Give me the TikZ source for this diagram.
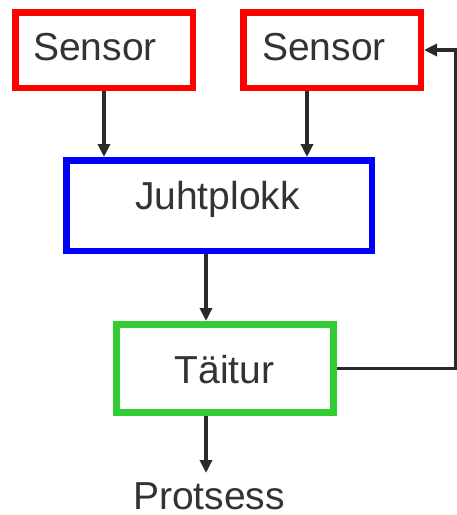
\documentclass[tikz,border=0pt]{standalone}
\usepackage{fontspec}
\setmainfont{Liberation Sans}
\usetikzlibrary{arrows.meta,calc}
\definecolor{txtgray}{HTML}{333333}
\definecolor{lingray}{HTML}{2A2A2A}
\definecolor{boxred}{HTML}{FF0000}
\definecolor{boxblue}{HTML}{0000FF}
\definecolor{boxgreen}{HTML}{33CC33}
\tikzset{
  blockbox/.style={draw, rectangle, inner sep=0pt, fill=white},
  lbl/.style={inner sep=0pt, anchor=base, text=txtgray, font=\fontsize{39}{47}\selectfont},
  arr/.style={draw=lingray, line width=3.3pt, -{Triangle[length=13pt,width=12pt]}},
}
\begin{document}
\begin{tikzpicture}[x=1pt,y=-1pt]
\useasboundingbox (0,0) rectangle (456,515);
\fill[white] (0,0) rectangle (456,515);
% boxes
\node[blockbox, draw=boxred, line width=6.5pt, minimum width=177.5pt, minimum height=75.5pt] (s1) at (104,50) {};
\node[blockbox, draw=boxred, line width=6.5pt, minimum width=177.5pt, minimum height=75.5pt] (s2) at (332,50) {};
\node[blockbox, draw=boxblue, line width=6.5pt, minimum width=305.5pt, minimum height=90.5pt] (jp) at (219,205.5) {};
\node[blockbox, draw=boxgreen, line width=7pt, minimum width=217pt, minimum height=88pt] (ta) at (225,368.5) {};
% texts
\node[lbl] (t1) at (95,60) {Sensor};
\node[lbl] (t2) at (324,60) {Sensor};
\node[lbl] (t3) at (217.5,209) {Juhtplokk};
\node[lbl] (t4) at (224.5,383) {Täitur};
\node[lbl] (pr) at (209,509) {Protsess};
% connectors
\coordinate (fb) at (455.5,0);
\coordinate (pin) at (206,473);
\draw[arr] (s1.south) -- (s1.south |- jp.north);
\draw[arr] ([xshift=-25pt]s2.south) -- ([xshift=-25pt]s2.south |- jp.north);
\draw[arr] ([xshift=-13pt]jp.south) -- ([xshift=-13pt]jp.south |- ta.north);
\draw[arr] (ta.south -| pin) -- (pin);
\draw[arr] (ta.east) -- (ta.east -| fb) -- (s2.east -| fb) -- (s2.east);
\end{tikzpicture}
\end{document}
